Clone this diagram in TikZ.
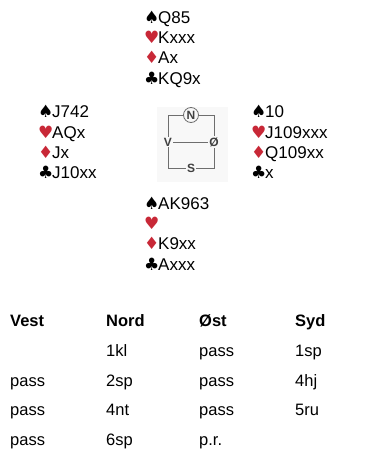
\documentclass[tikz,border=0pt]{standalone}
\usepackage{fontspec}
\setmainfont{Liberation Sans}
\newfontfamily\suitfont{DejaVu Sans}
\definecolor{suitred}{RGB}{200,40,55}
\definecolor{boxgray}{RGB}{110,110,110}
\definecolor{boxfill}{RGB}{248,248,248}
\newcommand{\spadesym}{\makebox[14pt][l]{\fontsize{17}{17}\suitfont\color{black}♠}}
\newcommand{\heartsym}{\makebox[14pt][l]{\fontsize{17}{17}\suitfont\color{suitred}♥}}
\newcommand{\diamsym}{\makebox[14pt][l]{\fontsize{17}{17}\suitfont\color{suitred}♦}}
\newcommand{\clubsym}{\makebox[14pt][l]{\fontsize{17}{17}\suitfont\color{black}♣}}
\begin{document}
\begin{tikzpicture}[x=1pt,y=-1pt,
  hand/.style={anchor=base west,inner sep=0pt,font=\fontsize{17}{18}\selectfont},
  bid/.style={anchor=base west,inner sep=0pt,font=\fontsize{16.5}{18}\selectfont},
  head/.style={bid,font=\fontsize{16.5}{18}\selectfont\bfseries},
  compass/.style={inner sep=1pt,fill=boxfill,text=black!75,font=\fontsize{12}{13}\selectfont\bfseries}]
\useasboundingbox (0,0) rectangle (365,458);

% nord
\node[hand] (n1) at (144,23) {\spadesym Q85};
\node[hand] (n2) at (144,43) {\heartsym Kxxx};
\node[hand] (n3) at (144,63) {\diamsym Ax};
\node[hand] (n4) at (144,84) {\clubsym KQ9x};

% vest
\node[hand] (w1) at (38,117) {\spadesym J742};
\node[hand] (w2) at (38,138) {\heartsym AQx};
\node[hand] (w3) at (38,158) {\diamsym Jx};
\node[hand] (w4) at (38,178) {\clubsym J10xx};

% øst
\node[hand] (e1) at (251,117) {\spadesym 10};
\node[hand] (e2) at (251,138) {\heartsym J109xxx};
\node[hand] (e3) at (251,158) {\diamsym Q109xx};
\node[hand] (e4) at (251,178) {\clubsym x};

% syd
\node[hand] (s1) at (144,209) {\spadesym AK963};
\node[hand] (s2) at (144,229) {\heartsym};
\node[hand] (s3) at (144,249) {\diamsym K9xx};
\node[hand] (s4) at (144,270) {\clubsym Axxx};

% kompass
\fill[boxfill] (157,107) rectangle (228,182);
\draw[boxgray,thick] (168,115) rectangle (214,168);
\draw[boxgray,thick] (168,142) -- (214,142);
\node[compass,circle,draw=boxgray,thick,minimum size=15pt,inner sep=0pt] (cn) at (191,115) {N};
\node[compass] (cv) at (168,142) {V};
\node[compass] (ce) at (214,142) {Ø};
\node[compass] (cs) at (191,168) {S};

% budgivning
\node[head] (hv) at (10,326) {Vest};
\node[head] (hn) at (106,326) {Nord};
\node[head] (he) at (199,326) {Øst};
\node[head] (hs) at (295,326) {Syd};

\node[bid] (b1) at (106,356) {1kl};
\node[bid] (b2) at (199,356) {pass};
\node[bid] (b3) at (295,356) {1sp};

\node[bid] (b4) at (10,386) {pass};
\node[bid] (b5) at (106,386) {2sp};
\node[bid] (b6) at (199,386) {pass};
\node[bid] (b7) at (295,386) {4hj};

\node[bid] (b8) at (10,415) {pass};
\node[bid] (b9) at (106,415) {4nt};
\node[bid] (b10) at (199,415) {pass};
\node[bid] (b11) at (295,415) {5ru};

\node[bid] (b12) at (10,445) {pass};
\node[bid] (b13) at (106,445) {6sp};
\node[bid] (b14) at (199,445) {p.r.};
\end{tikzpicture}
\end{document}
